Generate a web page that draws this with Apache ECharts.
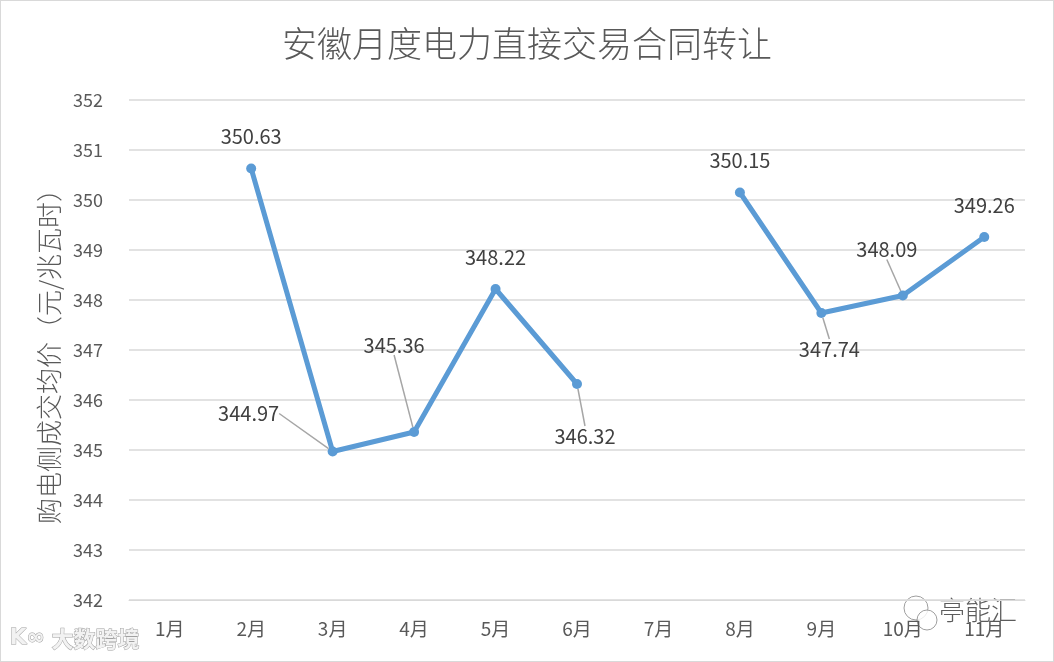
<!DOCTYPE html>
<html><head><meta charset="utf-8">
<script src="https://cdn.jsdelivr.net/npm/echarts@6/dist/echarts.min.js"></script>
<style>
html,body{margin:0;padding:0;background:#fff;}
#wrap{position:absolute;left:0;top:0;width:1052px;height:660px;border:1px solid #D9D9D9;}
#c{width:1052px;height:660px;}
</style></head><body>
<div id="wrap"><div id="c"></div></div>
<script>
var titleText = '安徽月度电力直接交易合同转让';
var yAxisName = '购电侧成交均价（元/兆瓦时）';
var categories = ['1月','2月','3月','4月','5月','6月','7月','8月','9月','10月','11月'];
var prices = [null, 350.63, 344.97, 345.36, 348.22, 346.32, null, 350.15, 347.74, 348.09, 349.26];
var yMin = 342, yMax = 352, yStep = 1;

// label offsets (style only), keyed by data index
var labelOffsets = {
  2: {dx: -84, dy: -6},
  3: {dx: -20, dy: -55},
  5: {dx: 8, dy: 84},
  8: {dx: 8, dy: 68},
  9: {dx: -16, dy: -14}
};
var guided = {2:true, 3:true, 5:true, 8:true, 9:true};

var seriesData = prices.map(function(v, i){
  return {value: v, labelLine: {show: !!guided[i]}};
});

var chart = echarts.init(document.getElementById('c'), null, {renderer:'canvas'});
var font = '"Noto Sans CJK SC", "Open Sans", sans-serif';
chart.setOption({
  animation: false,
  title: {
    text: titleText, left: 'center', top: 20,
    textStyle: {fontFamily: font, fontSize: 35, fontWeight: 300, color: '#595959'}
  },
  grid: {left: 128, top: 99, width: 896, height: 500, containLabel: false},
  xAxis: {
    type: 'category', data: categories, boundaryGap: true,
    axisLine: {show: true, lineStyle: {color: '#D9D9D9', width: 1}},
    axisTick: {show: false},
    axisLabel: {color: '#595959', fontSize: 19, fontFamily: font, margin: 19}
  },
  yAxis: {
    type: 'value', min: yMin, max: yMax, interval: yStep,
    name: yAxisName, nameLocation: 'middle', nameGap: 58, nameRotate: 90,
    nameTextStyle: {color: '#595959', fontSize: 26, fontFamily: font, fontWeight: 300},
    axisLine: {show: false}, axisTick: {show: false},
    axisLabel: {color: '#595959', fontSize: 18, fontFamily: font, margin: 26},
    splitLine: {lineStyle: {color: '#D9D9D9', width: 1.5}}
  },
  series: [{
    type: 'line', data: seriesData, connectNulls: false,
    lineStyle: {color: '#5B9BD5', width: 5, cap: 'round', join: 'round'},
    itemStyle: {color: '#5B9BD5'},
    symbol: 'circle', symbolSize: 10, showAllSymbol: true,
    label: {
      show: true, position: 'top', distance: 17,
      color: '#404040', fontSize: 20, fontFamily: font,
      formatter: function(p){ return p.value.toFixed(2); }
    },
    labelLine: {show: true, lineStyle: {color: '#A6A6A6', width: 1.5}},
    labelLayout: function(p){
      var o = labelOffsets[p.dataIndex] || {dx:0, dy:0};
      return {dx: o.dx, dy: o.dy};
    }
  }],
  graphic: [
    {type: 'text', left: 8, top: 626, style: {text: 'K∞', fill: '#F2F2F2', stroke:'#A0A0A0', lineWidth: 1, font: 'bold 22px "DejaVu Sans"'}},
    {type: 'text', left: 50, top: 626, style: {text: '大数跨境', fill: '#F2F2F2', stroke:'#A0A0A0', lineWidth: 1, font: 'bold 22px "Noto Sans CJK SC"'}},
    {type: 'circle', shape: {cx: 915, cy: 607, r: 12}, style: {fill: 'rgba(255,255,255,0.7)', stroke: '#9E9E9E', lineWidth: 1}},
    {type: 'circle', shape: {cx: 926, cy: 619, r: 10}, style: {fill: 'rgba(255,255,255,0.8)', stroke: '#9E9E9E', lineWidth: 1}},
    {type: 'text', left: 938, top: 596, style: {text: '亭能汇', fill: '#404040', font: '300 26px "Noto Sans CJK SC"', opacity: 0.85}}
  ]
});
</script>
</body></html>
